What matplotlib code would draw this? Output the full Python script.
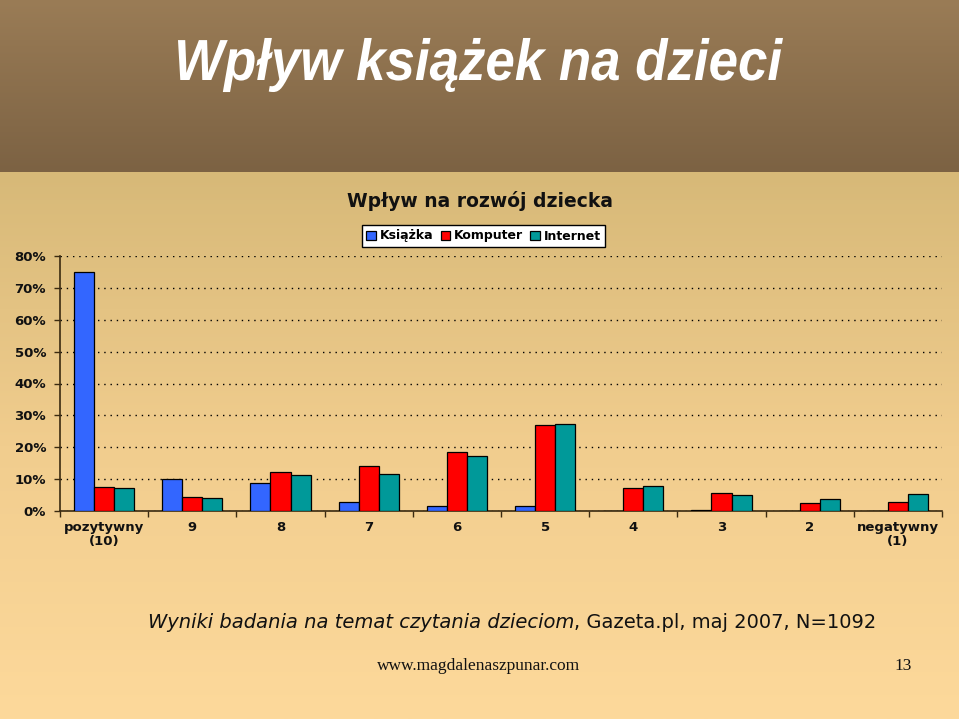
import numpy as np
import matplotlib
matplotlib.use('Agg')
import matplotlib.pyplot as plt
from matplotlib.colors import LinearSegmentedColormap
from matplotlib.textpath import TextPath
from matplotlib.patches import PathPatch
from matplotlib.font_manager import FontProperties
from matplotlib.transforms import Affine2D

categories = ['pozytywny\n(10)', '9', '8', '7', '6', '5', '4', '3', '2', 'negatywny\n(1)']
ksiazka = [75.0, 10.0, 8.8, 2.7, 1.7, 1.7, 0.0, 0.3, 0.0, 0.0]
komputer = [7.4, 4.5, 12.1, 14.0, 18.4, 27.0, 7.2, 5.7, 2.5, 2.8]
internet = [7.1, 4.1, 11.4, 11.7, 17.2, 27.4, 7.7, 5.0, 3.8, 5.4]
series_names = ['Książka', 'Komputer', 'Internet']
colors = ['#3366ff', '#ff0000', '#009999']

W, H = 959, 719
fig = plt.figure(figsize=(W / 100, H / 100), dpi=100)

# background: brown title band + tan gradient
bg = fig.add_axes([0, 0, 1, 1])
bg.axis('off')
brown = LinearSegmentedColormap.from_list('brown', ['#9a7c56', '#7c6243'])
tan = LinearSegmentedColormap.from_list('tan', ['#d7b978', '#f1cd8e', '#fdd99b'])
grad = np.linspace(0, 1, 256).reshape(-1, 1)
bg.imshow(grad, cmap=brown, extent=[0, W, 172, 0], aspect='auto')
bg.imshow(grad, cmap=tan, extent=[0, W, H, 172], aspect='auto')
bg.set_xlim(0, W)
bg.set_ylim(H, 0)

# big title, condensed horizontally (narrow bold italic look)
title = 'Wpływ książek na dzieci'
fp = FontProperties(family='Liberation Sans', weight='bold', style='italic')
tp = TextPath((0, 0), title, size=58, prop=fp)
ext = tp.get_extents()
sx = 605 / ext.width
tr = Affine2D().translate(-ext.x0, 0).scale(sx, 1.0).translate(178, H - 80)
patch = PathPatch(tr.transform_path(tp), facecolor='white', edgecolor='none',
                  transform=matplotlib.transforms.IdentityTransform())
fig.add_artist(patch)

# chart
ax = fig.add_axes([60 / W, 1 - 511 / H, 882 / W, 255 / H])
ax.patch.set_alpha(0)
x = np.arange(len(categories))
bw = 0.227
for i, (vals, c, name) in enumerate(zip([ksiazka, komputer, internet], colors, series_names)):
    ax.bar(x + (i - 1) * bw, vals, bw, color=c, edgecolor='black', linewidth=0.9,
           label=name, zorder=3)

ax.set_xlim(-0.5, len(categories) - 0.5)
ax.set_ylim(0, 80)
ax.set_yticks(np.arange(0, 81, 10))
ax.set_yticklabels([f'{v}%' for v in range(0, 81, 10)])
ax.set_xticks(x)
ax.set_xticklabels(categories)
ax.set_xticks(np.arange(-0.5, len(categories)), minor=True)
ax.tick_params(axis='x', which='major', length=0, pad=7)
ax.tick_params(axis='x', which='minor', length=4, width=1, color='#3a2a10', direction='out')
ax.tick_params(axis='y', length=4, width=1, color='#3a2a10', direction='out', pad=6)
for lab in ax.get_xticklabels() + ax.get_yticklabels():
    lab.set_fontweight('bold')
    lab.set_fontsize(9.5)
    lab.set_color('#111111')
    lab.set_linespacing(1.15)
ax.yaxis.grid(True, linestyle=(0, (1, 3.5)), color='black', linewidth=1.0, zorder=0)
for s in ['top', 'right']:
    ax.spines[s].set_visible(False)
for s in ['left', 'bottom']:
    ax.spines[s].set_color('#3a2a10')
    ax.spines[s].set_linewidth(1.2)

fig.text(480 / W, 1 - 201 / H, 'Wpływ na rozwój dziecka', fontsize=13.5,
         fontweight='bold', ha='center', va='center', color='#111111')

leg = fig.legend(*ax.get_legend_handles_labels(), loc='center', ncol=3,
                 bbox_to_anchor=(483.5 / W, 1 - 236 / H),
                 prop={'weight': 'bold', 'size': 9},
                 handlelength=0.75, handleheight=0.75, handletextpad=0.3,
                 columnspacing=0.6, borderpad=0.35, fancybox=False,
                 frameon=True, edgecolor='black', framealpha=1)
leg.get_frame().set_linewidth(1.0)

# footnote with italic title part
t1 = fig.text(148 / W, 1 - 628 / H, 'Wyniki badania na temat czytania dzieciom',
              fontsize=14, fontstyle='italic', ha='left', va='baseline', color='#111111')
ax.annotate(', Gazeta.pl, maj 2007, N=1092', xy=(1, 0), xycoords=t1,
            xytext=(0, 0), textcoords='offset points',
            fontsize=14, ha='left', va='bottom', color='#111111',
            annotation_clip=False)

fig.text(479 / W, 1 - 670 / H, 'www.magdalenaszpunar.com', fontsize=12.5,
         family='Liberation Serif', ha='center', va='baseline', color='#111111')
fig.text(903 / W, 1 - 670 / H, '13', fontsize=12.5,
         family='Liberation Serif', ha='center', va='baseline', color='#111111')

fig.savefig('out.png', dpi=100)
